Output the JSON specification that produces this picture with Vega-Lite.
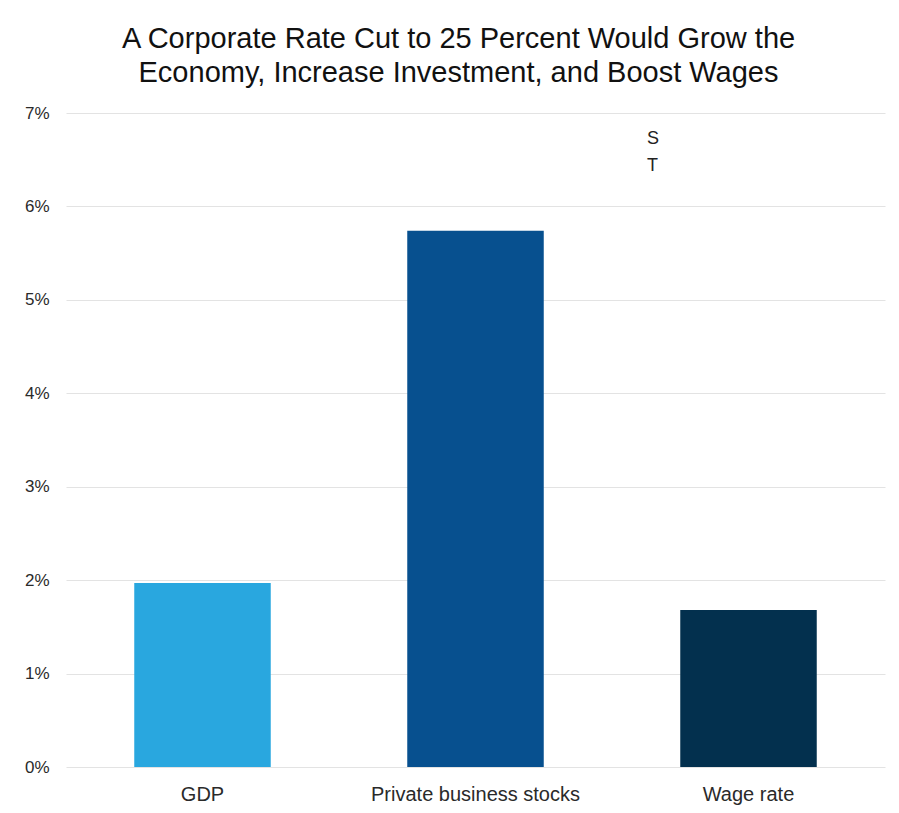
{
  "$schema": "https://vega.github.io/schema/vega-lite/v6.json",
  "width": 819,
  "height": 654,
  "padding": {"left": 24, "right": 13, "top": 25, "bottom": 8},
  "background": "white",
  "title": {
    "text": ["A Corporate Rate Cut to 25 Percent Would Grow the", "Economy, Increase Investment, and Boost Wages"],
    "font": "Liberation Sans",
    "fontSize": 29,
    "fontWeight": "normal",
    "color": "#111111",
    "lineHeight": 34,
    "anchor": "middle",
    "dx": -17,
    "offset": 16
  },
  "datasets": {
    "bars": [
      {"category": "GDP", "value": 0.0197},
      {"category": "Private business stocks", "value": 0.0574},
      {"category": "Wage rate", "value": 0.0168}
    ],
    "notes": [
      {"category": "Wage rate", "value": 0.0672, "label": "S"},
      {"category": "Wage rate", "value": 0.0643, "label": "T"}
    ]
  },
  "config": {
    "view": {"stroke": null},
    "axis": {"labelFont": "Liberation Sans", "labelColor": "#2a2a2a", "domain": false, "ticks": false}
  },
  "layer": [
    {
      "data": {"name": "bars"},
      "mark": {"type": "bar"},
      "encoding": {
        "x": {
          "field": "category",
          "type": "nominal",
          "sort": null,
          "scale": {"paddingInner": 0.5, "paddingOuter": 0.25},
          "axis": {"title": null, "labelAngle": 0, "labelFontSize": 20, "labelPadding": 17, "labelLimit": 0, "grid": false}
        },
        "y": {
          "field": "value",
          "type": "quantitative",
          "scale": {"domain": [0, 0.07], "nice": false},
          "axis": {"title": null, "format": ".0%", "values": [0, 0.01, 0.02, 0.03, 0.04, 0.05, 0.06, 0.07], "labelFontSize": 17, "labelPadding": 17, "gridColor": "#e3e3e3", "gridWidth": 1.2}
        },
        "color": {
          "field": "category",
          "type": "nominal",
          "scale": {"domain": ["GDP", "Private business stocks", "Wage rate"], "range": ["#29a7df", "#07508f", "#03304e"]},
          "legend": null
        }
      }
    },
    {
      "data": {"name": "notes"},
      "mark": {"type": "text", "align": "left", "baseline": "middle", "font": "Liberation Sans", "fontSize": 18, "color": "#222222"},
      "encoding": {
        "x": {"field": "category", "type": "nominal", "bandPosition": -0.244},
        "y": {"field": "value", "type": "quantitative"},
        "text": {"field": "label"}
      }
    }
  ]
}
